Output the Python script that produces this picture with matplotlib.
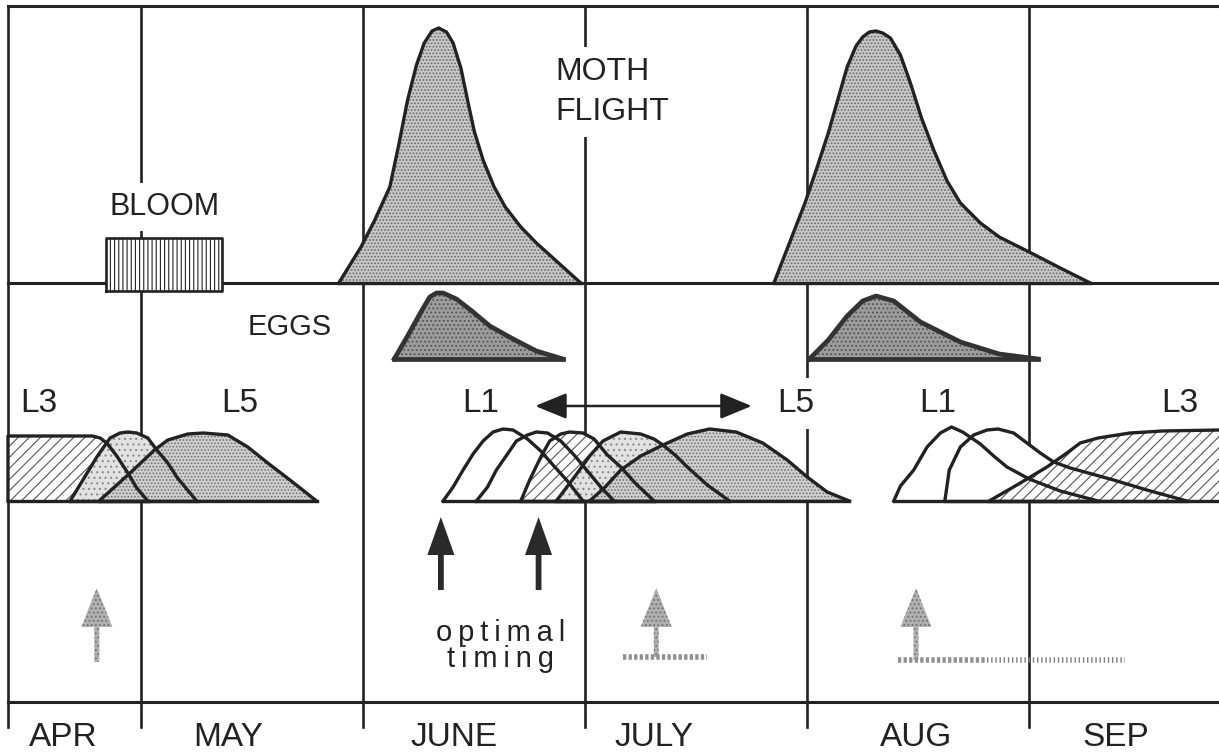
# seasonal phenology diagram: bloom, moth flight, eggs, larval instars
import numpy as np
import matplotlib.pyplot as plt

plt.rcParams['font.family'] = ['Liberation Sans', 'DejaVu Sans']
plt.rcParams['hatch.linewidth'] = 0.8

# x axis in months: 5 = 1 May, 6 = 1 June ... 9 = 1 Sep
month_starts = [5, 6, 7, 8, 9]
month_names = ["APR", "MAY", "JUNE", "JULY", "AUG", "SEP"]
month_label_x = [4.65, 5.39, 6.41, 7.31, 8.49, 9.39]

bloom_start, bloom_end = 4.84, 5.365

# moth flight (two generations)
flight1_x = [5.89, 5.99, 6.05, 6.12, 6.16, 6.20, 6.24, 6.275, 6.31, 6.34, 6.375,
             6.405, 6.44, 6.47, 6.50, 6.54, 6.59, 6.64, 6.71, 6.78, 6.88, 6.98]
flight1_h = [0, 36, 62, 96, 138, 183, 218, 240, 252, 255, 251,
             240, 215, 183, 152, 123, 96, 76, 56, 40, 20, 0]
flight2_x = [7.85, 7.92, 7.99, 8.045, 8.095, 8.14, 8.18, 8.22, 8.25, 8.28, 8.31, 8.34,
             8.375, 8.42, 8.465, 8.515, 8.57, 8.63, 8.69, 8.78, 8.865, 9.00, 9.14, 9.275]
flight2_h = [0, 40, 80, 116, 150, 185, 216, 237, 246, 251, 252, 250,
             245, 228, 200, 165, 133, 102, 80, 60, 46, 31, 15, 0]

# eggs
eggs1_x = [6.14, 6.20, 6.26, 6.30, 6.33, 6.36, 6.42, 6.495, 6.57, 6.675, 6.78, 6.90]
eggs1_h = [0, 23, 47, 62, 66, 66, 60, 47, 33, 20, 8, 0]
eggs2_x = [8.01, 8.095, 8.18, 8.25, 8.31, 8.39, 8.51, 8.69, 8.865, 9.04]
eggs2_h = [0, 19, 43, 58, 63, 58, 37, 17, 5, 0]

# larvae, spring (overwintered)
spr_l3_x = [4.40, 4.40, 4.78, 4.815, 4.845, 4.89, 4.94, 4.98, 5.03]
spr_l3_h = [0, 65, 65, 63, 58, 45, 28, 13, 0]
spr_l4_x = [4.68, 4.74, 4.80, 4.86, 4.905, 4.94, 4.98, 5.03, 5.07, 5.12, 5.16, 5.25]
spr_l4_h = [0, 22, 44, 63, 68, 69, 68, 63, 51, 38, 24, 0]
spr_l5_x = [4.81, 4.95, 5.06, 5.12, 5.21, 5.28, 5.39, 5.48, 5.57, 5.67, 5.79]
spr_l5_h = [0, 28, 51, 61, 67, 68, 66, 54, 38, 21, 0]

# larvae, summer generation
sum_l1_x = [6.36, 6.405, 6.45, 6.495, 6.54, 6.585, 6.63, 6.675, 6.74, 6.80, 6.855, 6.92, 6.99]
sum_l1_h = [0, 14, 31, 47, 60, 69, 72, 71, 62, 50, 36, 20, 0]
sum_l2_x = [6.51, 6.56, 6.60, 6.65, 6.69, 6.74, 6.78, 6.83, 6.89, 6.95, 7.01, 7.07, 7.13]
sum_l2_h = [0, 14, 31, 47, 60, 66, 69, 68, 60, 46, 30, 14, 0]
sum_l3_x = [6.71, 6.75, 6.80, 6.84, 6.89, 6.93, 6.99, 7.04, 7.10, 7.16, 7.225, 7.31]
sum_l3_h = [0, 21, 44, 60, 67, 69, 68, 62, 46, 34, 18, 0]
sum_l4_x = [6.87, 6.955, 7.02, 7.08, 7.16, 7.25, 7.31, 7.35, 7.41, 7.46, 7.55, 7.65]
sum_l4_h = [0, 25, 45, 60, 69, 67, 62, 56, 45, 34, 16, 0]
sum_l5_x = [7.02, 7.09, 7.16, 7.25, 7.35, 7.46, 7.56, 7.68, 7.80, 7.91, 8.00, 8.09, 8.19]
sum_l5_h = [0, 14, 31, 45, 56, 67, 72, 69, 58, 41, 24, 9, 0]

# larvae, autumn generation
aut_l1_x = [8.39, 8.42, 8.48, 8.54, 8.60, 8.65, 8.70, 8.78, 8.84, 8.90, 9.00, 9.14, 9.31]
aut_l1_h = [0, 15, 31, 54, 68, 74, 69, 57, 45, 34, 22, 10, 0]
aut_l2_x = [8.62, 8.64, 8.69, 8.75, 8.81, 8.86, 8.93, 8.99, 9.05, 9.11, 9.185, 9.38, 9.53, 9.71]
aut_l2_h = [0, 31, 54, 66, 71, 72, 68, 58, 48, 39, 33, 21, 11, 0]
aut_l3_x = [8.82, 8.96, 9.08, 9.17, 9.23, 9.31, 9.455, 9.60, 9.86, 9.86]
aut_l3_h = [0, 18, 34, 48, 58, 63, 68, 70, 71, 0]

# stage labels
stage_labels = ["L3", "L5", "L1", "L5", "L1", "L3"]
stage_label_x = [4.54, 5.445, 6.53, 7.95, 8.59, 9.68]

# timing arrows
optimal_x = [6.35, 6.79]
spray_x = [4.80, 7.32, 8.49]

# layout (y in pixel-like units, 0 = bottom)
TOP, FLIGHT_BASE, EGG_BASE, LARVA_BASE, BOTTOM, TICK_END = 750, 473, 397, 255, 54, 29
LEFT = 4.40
INK = '#222222'

fig = plt.figure(figsize=(12.19, 7.56), dpi=100)
ax = fig.add_axes([0, 0, 1, 1])
ax.set_xlim(4.364, 9.855)
ax.set_ylim(0, 756)
ax.axis('off')

# frame and month grid
for y in [TOP, FLIGHT_BASE, BOTTOM]:
    ax.plot([LEFT, 9.855], [y, y], color=INK, lw=2.2, zorder=1)
for x in [LEFT] + month_starts:
    ax.plot([x, x], [TICK_END, TOP], color=INK, lw=1.9, zorder=1)

for name, x in zip(month_names, month_label_x):
    ax.text(x, 19, name, ha='center', va='center', fontsize=24, color=INK)


def curve(x, h, base, face, hatch=None, hatch_col='#777777', z=3, lw=2.4, edge=INK):
    x = np.asarray(x, float)
    y = base + np.asarray(h, float)
    ax.fill(x, y, facecolor=face, edgecolor=hatch_col, lw=0, hatch=hatch, zorder=z)
    ax.plot(x, y, color=edge, lw=lw, zorder=8, solid_joinstyle='round')
    ax.plot([x[0], x[-1]], [base, base], color=edge, lw=lw, zorder=8)


# bloom box
ax.fill([bloom_start, bloom_end, bloom_end, bloom_start],
        [465, 465, 518, 518], facecolor='white', edgecolor=INK, lw=0,
        hatch='||||', zorder=3)
ax.plot([bloom_start, bloom_end, bloom_end, bloom_start, bloom_start],
        [465, 465, 518, 518, 465], color=INK, lw=1.9, zorder=8)

# moth flight
curve(flight1_x, flight1_h, FLIGHT_BASE, '#c8c8c8', '.....', '#666666')
curve(flight2_x, flight2_h, FLIGHT_BASE, '#c8c8c8', '.....', '#666666')

# eggs
curve(eggs1_x, eggs1_h, EGG_BASE, '#9c9c9c', '....', '#505050', lw=3.4, edge='#333333')
curve(eggs2_x, eggs2_h, EGG_BASE, '#9c9c9c', '....', '#505050', lw=3.4, edge='#333333')

# larvae
curve(spr_l3_x, spr_l3_h, LARVA_BASE, 'white', '///', '#555555', z=3)
curve(spr_l4_x, spr_l4_h, LARVA_BASE, '#e2e2e2', '...', '#8a8a8a', z=4)
curve(spr_l5_x, spr_l5_h, LARVA_BASE, '#d0d0d0', '.....', '#707070', z=5)

curve(sum_l1_x, sum_l1_h, LARVA_BASE, 'white', z=3)
curve(sum_l2_x, sum_l2_h, LARVA_BASE, 'white', z=4)
curve(sum_l3_x, sum_l3_h, LARVA_BASE, 'white', '///', '#555555', z=5)
curve(sum_l4_x, sum_l4_h, LARVA_BASE, '#e2e2e2', '...', '#8a8a8a', z=6)
curve(sum_l5_x, sum_l5_h, LARVA_BASE, '#d0d0d0', '.....', '#707070', z=7)

curve(aut_l1_x, aut_l1_h, LARVA_BASE, 'white', z=3)
curve(aut_l2_x, aut_l2_h, LARVA_BASE, 'white', z=4)
curve(aut_l3_x, aut_l3_h, LARVA_BASE, 'white', '///', '#555555', z=5)

# text labels
white_box = dict(facecolor='white', edgecolor='none', boxstyle='square,pad=0.3')
ax.text(5.105, 549, "BLOOM", ha='center', va='center', fontsize=22, color=INK,
        bbox=white_box, zorder=9)
ax.text(6.865, 684, "MOTH", ha='left', va='center', fontsize=23, color=INK,
        bbox=white_box, zorder=9)
ax.text(6.865, 644, "FLIGHT", ha='left', va='center', fontsize=23, color=INK,
        bbox=white_box, zorder=9)
ax.text(5.67, 429, "EGGS", ha='center', va='center', fontsize=21, color=INK, zorder=9)
for lab, x in zip(stage_labels, stage_label_x):
    box = white_box if lab == "L5" and x > 7 else None
    ax.text(x, 353, lab, ha='center', va='center', fontsize=24, color=INK,
            bbox=box, zorder=9)

# L1 <-> L5 span arrow
ax.annotate('', xy=(7.75, 350), xytext=(6.775, 350),
            arrowprops=dict(arrowstyle='<|-|>,head_length=0.97,head_width=0.4',
                            mutation_scale=20, lw=1.8, color=INK,
                            shrinkA=0, shrinkB=0), zorder=9)

# optimal timing arrows
for x in optimal_x:
    ax.arrow(x, 166, 0, 73, width=0.026, head_width=0.122, head_length=38,
             length_includes_head=True, facecolor='#2a2a2a', edgecolor='none', zorder=9)
ax.text(6.62, 110, "o\u2009p\u2009t\u2009i\u2009m\u2009a\u2009l\nt\u2009i\u2009m\u2009i\u2009n\u2009g",
        ha='center', va='center', multialignment='center', linespacing=0.95,
        fontsize=21, color=INK)

# stippled grey arrows
for x, y0 in zip(spray_x, [94, 99, 96]):
    ax.arrow(x, y0, 0, 168 - y0, width=0.022, head_width=0.14, head_length=39,
             length_includes_head=True, facecolor='#b0b0b0', edgecolor='#707070',
             lw=0, hatch='....', zorder=9)
ax.plot([7.17, 7.55], [99, 99], color='#909090', lw=4, ls=(0, (0.6, 0.4)), zorder=9)
ax.plot([8.41, 8.81], [96, 96], color='#909090', lw=4, ls=(0, (0.6, 0.4)), zorder=9)
ax.plot([8.81, 9.43], [96, 96], color='#808080', lw=4, ls=(0, (0.25, 0.5)), zorder=9)

fig.savefig("out.png", dpi=100, facecolor='white')
